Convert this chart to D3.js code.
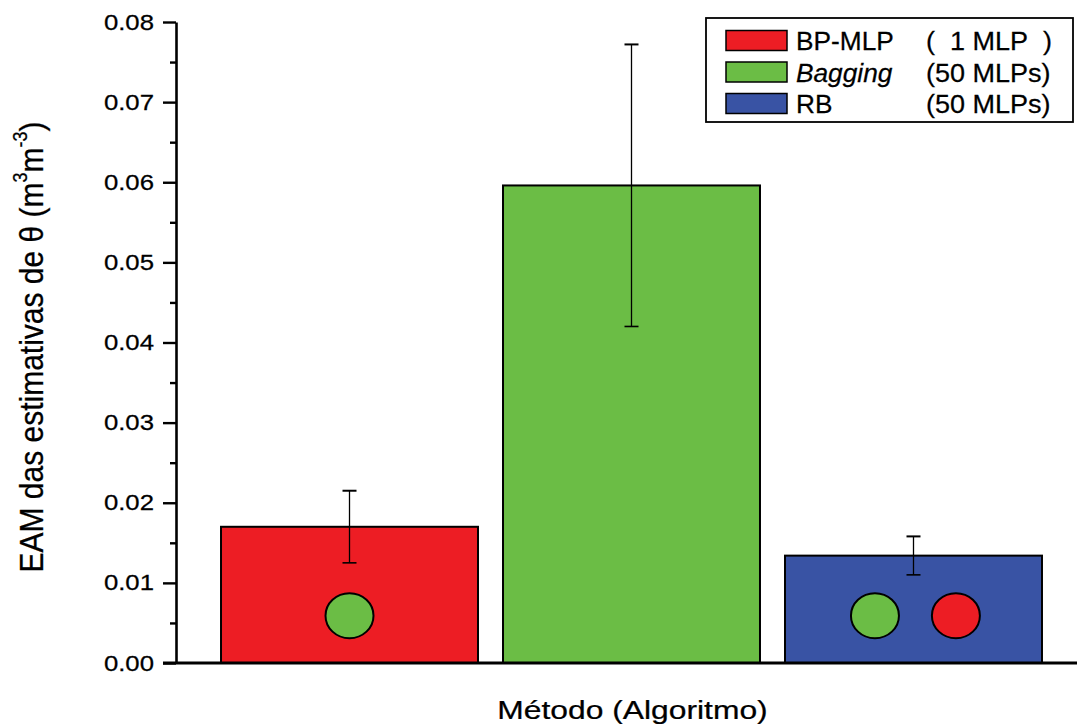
<!DOCTYPE html>
<html>
<head>
<meta charset="utf-8">
<script src="https://cdn.jsdelivr.net/npm/d3@7"></script>
<style>
  html, body { margin: 0; padding: 0; background: #fff; }
  svg { display: block; font-family: "Liberation Sans", Arial, sans-serif; }
  text { stroke: #000; stroke-width: 0.25px; }
</style>
</head>
<body>
<svg id="chart" width="1077" height="727"></svg>
<script>
// ---- data ----
const categories = ["BP-MLP", "Bagging", "RB"];
const legendNotes = ["(\u00A0\u00A01 MLP\u00A0\u00A0)", "(50 MLPs)", "(50 MLPs)"];
const values = [0.0170, 0.0596, 0.0134];
const errors = [0.0045, 0.0176, 0.0024];
const barColors = ["#ED1D24", "#6BBD45", "#3953A4"];
const yTicks = [0, 0.01, 0.02, 0.03, 0.04, 0.05, 0.06, 0.07, 0.08];
const yMinorTicks = [0.005, 0.015, 0.025, 0.035, 0.045, 0.055, 0.065, 0.075];
// markers drawn inside bars: bar, colour index, horizontal offset (fraction of bar width), value level
const markerBar = ["BP-MLP", "RB", "RB"];
const markerColor = [1, 1, 0];
const markerOffset = [0, -0.15, 0.165];
const markerLevel = [0.0059, 0.0059, 0.0059];

// ---- layout ----
const svg = d3.select("#chart");
const axisX = 176, axisBottom = 663, axisTop = 22, axisRight = 1077;

const x = d3.scaleBand().domain(categories).range([196, 1067])
  .paddingInner(0.0887).paddingOuter(0.0887);
const y = d3.scaleLinear().domain([0, 0.08]).range([axisBottom, axisTop]);

// bars
svg.append("g").selectAll("rect").data(categories).join("rect")
  .attr("x", d => x(d))
  .attr("y", (d, i) => y(values[i]))
  .attr("width", x.bandwidth())
  .attr("height", (d, i) => y(0) - y(values[i]))
  .attr("fill", (d, i) => barColors[i])
  .attr("stroke", "#000")
  .attr("stroke-width", 2);

// error bars
const eb = svg.append("g").attr("stroke", "#000").attr("stroke-width", 1.3);
categories.forEach((c, i) => {
  const cx = x(c) + x.bandwidth() / 2;
  const hi = y(values[i] + errors[i]), lo = y(values[i] - errors[i]);
  eb.append("line").attr("x1", cx).attr("x2", cx).attr("y1", hi).attr("y2", lo);
  eb.append("line").attr("x1", cx - 7).attr("x2", cx + 7).attr("y1", hi).attr("y2", hi).attr("stroke-width", 2);
  eb.append("line").attr("x1", cx - 7).attr("x2", cx + 7).attr("y1", lo).attr("y2", lo).attr("stroke-width", 1.6);
});

// circle markers
svg.append("g").selectAll("ellipse").data(markerBar).join("ellipse")
  .attr("cx", (d, i) => x(d) + x.bandwidth() * (0.5 + markerOffset[i]))
  .attr("cy", (d, i) => y(markerLevel[i]))
  .attr("rx", 24).attr("ry", 22.5)
  .attr("fill", (d, i) => barColors[markerColor[i]])
  .attr("stroke", "#000").attr("stroke-width", 2);

// y axis (major)
const yAxisG = svg.append("g").attr("transform", `translate(${axisX},0)`)
  .call(d3.axisLeft(y).tickValues(yTicks).tickFormat(d3.format(".2f"))
    .tickSize(13).tickSizeOuter(0).tickPadding(9));
yAxisG.select(".domain").attr("stroke-width", 2.6);
yAxisG.selectAll(".tick line").attr("stroke-width", 2.4);
yAxisG.selectAll(".tick text")
  .attr("font-size", 22).attr("fill", "#000")
  .attr("font-family", "'Liberation Sans', Arial, sans-serif")
  .attr("x", 0)
  .attr("transform", "translate(-22,0) scale(1.17,1)");
// y axis (minor)
const yMinorG = svg.append("g").attr("transform", `translate(${axisX},0)`)
  .call(d3.axisLeft(y).tickValues(yMinorTicks).tickFormat("").tickSize(6).tickSizeOuter(0));
yMinorG.select(".domain").remove();
yMinorG.selectAll(".tick line").attr("stroke-width", 2.4);

// x axis line
svg.append("line").attr("x1", axisX - 13).attr("x2", axisRight)
  .attr("y1", axisBottom).attr("y2", axisBottom)
  .attr("stroke", "#000").attr("stroke-width", 2.8);

// x axis title
svg.append("text")
  .attr("transform", "translate(632.5,719) scale(1.2,1)")
  .attr("text-anchor", "middle").attr("font-size", 26.5).attr("fill", "#000")
  .text("Método (Algoritmo)");

// y axis title
const yt = svg.append("text")
  .attr("transform", "translate(43,347) rotate(-90) scale(1,1.12)")
  .attr("text-anchor", "middle").attr("font-size", 30).attr("fill", "#000");
yt.append("tspan").text("EAM das estimativas de θ (m");
yt.append("tspan").attr("font-size", 18).attr("dy", -14).text("3");
yt.append("tspan").attr("dy", 14).text("m");
yt.append("tspan").attr("font-size", 18).attr("dy", -14).text("-3");
yt.append("tspan").attr("dy", 14).text(")");

// legend
const lg = svg.append("g");
lg.append("rect").attr("x", 706).attr("y", 18).attr("width", 367).attr("height", 104)
  .attr("fill", "#fff").attr("stroke", "#000").attr("stroke-width", 1.8);
const rowY = d3.scalePoint().domain(categories).range([50, 113]);
categories.forEach((c, i) => {
  const by = rowY(c);
  lg.append("rect").attr("x", 726).attr("y", by - 19.5).attr("width", 61).attr("height", 20)
    .attr("fill", barColors[i]).attr("stroke", "#000").attr("stroke-width", 1.5);
  lg.append("text").attr("transform", `translate(796,${by}) scale(1.03,1)`).attr("font-size", 25.5)
    .attr("font-style", c === "Bagging" ? "italic" : "normal").attr("fill", "#000").text(c);
  lg.append("text").attr("transform", `translate(926,${by}) scale(1.06,1)`)
    .attr("font-size", 25.5).attr("fill", "#000").text(legendNotes[i]);
});
</script>
</body>
</html>
